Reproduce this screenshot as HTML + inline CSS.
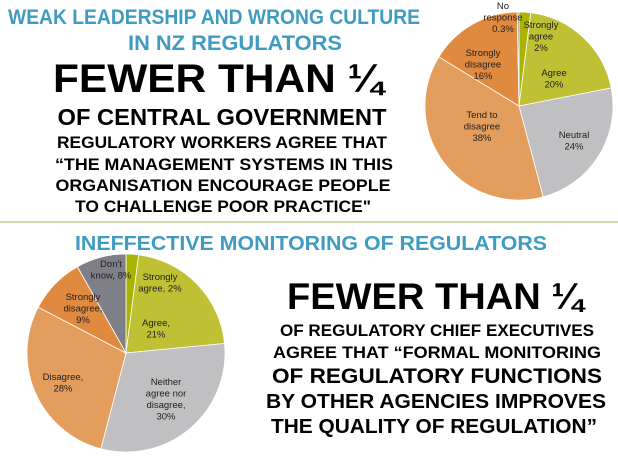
<!DOCTYPE html>
<html><head><meta charset="utf-8"><style>
body{margin:0;background:#fff;}
svg{display:block;font-family:"Liberation Sans",sans-serif;font-weight:bold;}
</style></head><body>
<svg id="s" width="618" height="460" viewBox="0 0 618 460">
<g fill="#3f9cc0" font-size="21" text-anchor="middle">
<text x="214" y="24" textLength="412" lengthAdjust="spacingAndGlyphs">WEAK LEADERSHIP AND WRONG CULTURE</text>
<text x="235" y="50" textLength="214" lengthAdjust="spacingAndGlyphs">IN NZ  REGULATORS</text>
</g>
<g fill="#000" text-anchor="middle">
<text x="218" y="92" font-size="40" textLength="330" lengthAdjust="spacingAndGlyphs">FEWER THAN ¼</text>
<text x="222" y="125" font-size="23" textLength="329" lengthAdjust="spacingAndGlyphs">OF CENTRAL GOVERNMENT</text>
<text x="222" y="148" font-size="17" textLength="330" lengthAdjust="spacingAndGlyphs">REGULATORY WORKERS AGREE THAT</text>
<text x="224" y="170" font-size="17" textLength="338" lengthAdjust="spacingAndGlyphs">“THE MANAGEMENT SYSTEMS IN THIS</text>
<text x="223" y="191" font-size="17" textLength="335" lengthAdjust="spacingAndGlyphs">ORGANISATION ENCOURAGE PEOPLE</text>
<text x="223" y="212" font-size="17" textLength="296" lengthAdjust="spacingAndGlyphs">TO CHALLENGE POOR PRACTICE"</text>
</g>
<line x1="0" y1="222" x2="618" y2="222" stroke="#c8c88a" stroke-width="1.5"/>
<text x="311" y="250" fill="#3f9cc0" font-size="20" text-anchor="middle" textLength="472" lengthAdjust="spacingAndGlyphs">INEFFECTIVE MONITORING OF REGULATORS</text>
<g fill="#000" text-anchor="middle">
<text x="435" y="309" font-size="37" textLength="296" lengthAdjust="spacingAndGlyphs">FEWER THAN ¼</text>
<text x="437" y="336" font-size="17" textLength="314" lengthAdjust="spacingAndGlyphs">OF REGULATORY CHIEF EXECUTIVES</text>
<text x="437" y="358" font-size="17" textLength="328" lengthAdjust="spacingAndGlyphs">AGREE THAT “FORMAL MONITORING</text>
<text x="437" y="383" font-size="21" textLength="330" lengthAdjust="spacingAndGlyphs">OF REGULATORY FUNCTIONS</text>
<text x="436" y="408" font-size="20" textLength="340" lengthAdjust="spacingAndGlyphs">BY OTHER AGENCIES IMPROVES</text>
<text x="434" y="433" font-size="20" textLength="326" lengthAdjust="spacingAndGlyphs">THE QUALITY OF REGULATION”</text>
</g>
<g id="pie1"></g>
<g id="pie2"></g>
</svg>
<script>
const cats1=["Strongly agree","Agree","Neutral","Tend to disagree","Strongly disagree","No response"];
const vals1=[2,20,24,38,16,0.3];
const labels1=[["Strongly","agree","2%"],["Agree","20%"],["Neutral","24%"],["Tend to","disagree","38%"],["Strongly","disagree","16%"],["No","response","0.3%"]];
const cats2=["Strongly agree","Agree","Neither agree nor disagree","Disagree","Strongly disagree","Don't know"];
const vals2=[2,21,30,28,9,8];
const labels2=[["Strongly","agree, 2%"],["Agree,","21%"],["Neither","agree nor","disagree,","30%"],["Disagree,","28%"],["Strongly","disagree,","9%"],["Don't","know, 8%"]];
const colors1=["#a9b300","#bfc033","#c0bfc1","#e39d5c","#df8a3e","#8a8a92"];
const colors2=["#a9b300","#bfc033","#c0bfc1","#e39d5c","#df8a3e","#7f7f88"];
const NS="http://www.w3.org/2000/svg";
function drawPie(gid,vals,cats,labels,colors,cx,cy,r,labPos){
  const g=document.getElementById(gid);
  const tot=vals.reduce((a,b)=>a+b,0);
  let a0=0;
  vals.forEach((v,i)=>{
    const a1=a0+v/tot*2*Math.PI;
    const p=document.createElementNS(NS,"path");
    const x0=cx+r*Math.sin(a0),y0=cy-r*Math.cos(a0),x1=cx+r*Math.sin(a1),y1=cy-r*Math.cos(a1);
    p.setAttribute("d",`M${cx},${cy}L${x0},${y0}A${r},${r} 0 ${a1-a0>Math.PI?1:0} 1 ${x1},${y1}Z`);
    p.setAttribute("fill",colors[i]);
    p.setAttribute("stroke","#fff");p.setAttribute("stroke-width","0.8");
    
    
    g.appendChild(p);
    a0=a1;
  });
  labels.forEach((ls,i)=>{
    const t=document.createElementNS(NS,"text");
    t.setAttribute("font-weight","normal");t.setAttribute("font-size","9.5");
    t.setAttribute("fill","#222");t.setAttribute("text-anchor","middle");
    const [lx,ly]=labPos[i];
    ls.forEach((s,k)=>{const ts=document.createElementNS(NS,"tspan");ts.setAttribute("x",lx);ts.setAttribute("y",ly+k*11.5);ts.textContent=s;t.appendChild(ts);});
    
    
    g.appendChild(t);
  });
}
drawPie("pie1",vals1,cats1,labels1,colors1,519,106,94,[[541,28],[554,76],[574,138],[482,118],[483,56],[503,9]]);
drawPie("pie2",vals2,cats2,labels2,colors2,126,353,99,[[160,280],[156,326],[166,385],[63,380],[83,300],[111,267]]);
</script>
</body></html>
